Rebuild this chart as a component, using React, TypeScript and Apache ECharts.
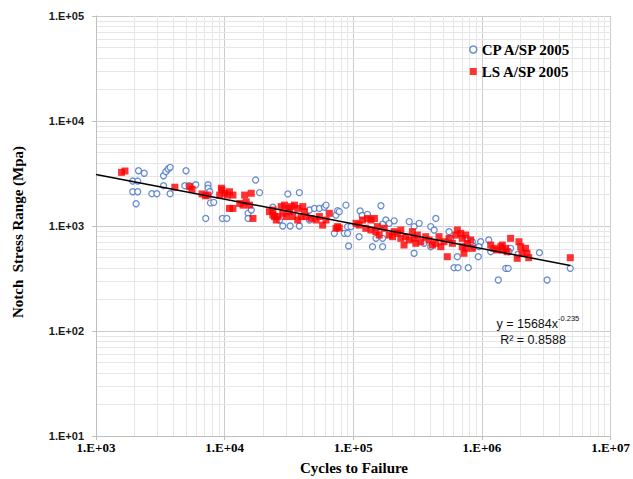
import React, { useEffect, useRef } from "react";
import * as echarts from "echarts";

// CP A/SP 2005 (blue open circles)
const cpCycles = [
  2140, 2370, 1930, 2110, 1930, 2110, 2050, 2720, 2970, 3350,
  3490, 3640, 3770, 3350, 3770, 5010, 4900, 5290, 5960, 7430,
  7430, 7660, 7760, 8230, 7130, 9600, 10400, 17400, 18700, 15200,
  16100, 15200, 31000, 38100, 23700, 26700, 28300, 32300, 38100, 45600,
  49900, 54500, 59600, 61400, 73400, 75500, 87700, 71200, 85100, 90300,
  91900, 90300, 45600, 95900, 77800, 113000, 117000, 129000, 164000, 111000,
  141000, 169000, 179000, 190000, 208000, 169000, 169000, 150000, 272000, 297000,
  325000, 297000, 438000, 400000, 425000, 355000, 400000, 555000, 572000, 644000,
  607000, 652000, 783000, 769000, 842000, 868000, 977000, 948000, 937000, 1130000,
  1170000, 1670000, 1620000, 1530000, 1600000, 1340000, 1910000, 2800000, 3210000, 4860000,
];
const cpStress = [
  3360, 3180, 2680, 2680, 2120, 2120, 1630, 2030, 2030, 3010,
  3290, 3490, 3620, 2420, 2030, 3360, 2420, 2420, 2470, 2470,
  2290, 2120, 1660, 1680, 1180, 1180, 1180, 2740, 2080, 1320,
  1420, 1180, 2020, 2080, 1510, 1140, 1000, 1000, 1000, 1420,
  1470, 1470, 1510, 1580, 1270, 1400, 1580, 851, 851, 851,
  645, 986, 1140, 986, 1370, 1390, 1260, 1290, 1560, 791,
  635, 635, 1140, 1060, 1120, 1040, 763, 763, 1100, 986,
  1060, 550, 1180, 986, 916, 684, 635, 883, 763, 510,
  401, 401, 401, 763, 708, 635, 708, 635, 510, 736,
  569, 613, 569, 395, 395, 306, 538, 557, 306, 395,
];

// LS A/SP 2005 (red squares)
const lsCycles = [
  1580, 1680, 4100, 5350, 5580, 6670, 7090, 7430, 9150, 9530,
  9430, 10000, 10900, 11600, 10500, 10900, 11600, 13100, 13900, 14700,
  15600, 14300, 16100, 16600, 24400, 23700, 27500, 29200, 31000, 32900,
  34900, 37000, 40500, 41700, 28300, 30100, 31900, 33800, 37000, 39300,
  42900, 47000, 51400, 54500, 57800, 61400, 65100, 73400, 75500, 22300,
  23700, 25900, 25200, 77800, 105000, 111000, 118000, 129000, 137000, 146000,
  125000, 137000, 150000, 159000, 154000, 174000, 190000, 202000, 208000, 220000,
  234000, 234000, 248000, 256000, 272000, 288000, 297000, 306000, 315000, 335000,
  366000, 388000, 412000, 438000, 464000, 479000, 507000, 538000, 555000, 589000,
  625000, 644000, 684000, 703000, 725000, 769000, 747000, 817000, 703000, 747000,
  842000, 1170000, 1240000, 1310000, 1400000, 1440000, 1530000, 1570000, 1670000, 1440000,
  1940000, 2000000, 2180000, 2240000, 2050000, 2310000, 1880000, 4860000,
];
const lsStress = [
  3240, 3340, 2340, 2370, 2240, 2020, 1940, 1970, 1970, 2200,
  2290, 2050, 2120, 1970, 1970, 1470, 1470, 1640, 1580, 1700,
  1580, 1970, 2050, 1180, 1230, 1420, 1530, 1580, 1470, 1530,
  1580, 1470, 1530, 1370, 1320, 1230, 1370, 1230, 1140, 1230,
  1230, 1180, 1140, 1230, 1020, 1140, 1320, 951, 986, 1370,
  1270, 1230, 1140, 958, 1060, 1020, 1140, 1180, 1140, 1180,
  951, 916, 883, 820, 986, 951, 820, 791, 883, 851,
  916, 763, 659, 791, 736, 883, 763, 684, 820, 708,
  791, 736, 659, 684, 791, 635, 708, 510, 763, 684,
  820, 916, 851, 763, 550, 684, 820, 736, 635, 613,
  613, 659, 613, 591, 635, 591, 613, 569, 763, 659,
  708, 635, 613, 550, 550, 499, 492, 499,
];

// Power trend line y = a * x^b
const trendCoef = 15684;
const trendExp = -0.235;
const trendRange = [1000, 4860000];
const trendLabel = "y = 15684x";
const trendSup = "-0.235";
const r2Label = "R\u00B2 = 0.8588";

const xDecades = [1e3, 1e4, 1e5, 1e6];
const yDecades = [10, 100, 1000, 10000];
const minorMultipliers = [2, 3, 4, 5, 6, 7, 8, 9];

const seriesNames = ["CP A/SP 2005", "LS A/SP 2005"];
const axisNames = ["Cycles to Failure", "Notch  Stress Range (Mpa)"];

const zip = (a: number[], b: number[]) => a.map((v, i) => [v, b[i]]);

const fmtExp = (v: number) => {
  const e = Math.round(Math.log10(v));
  return "1.E" + (e >= 0 ? "+" : "-") + String(Math.abs(e)).padStart(2, "0");
};

export default function App() {
  const ref = useRef<HTMLDivElement>(null);
  useEffect(() => {
    if (!ref.current) return;
    const chart = echarts.init(ref.current, undefined, { renderer: "svg" });

    const minorX: any[] = [];
    xDecades.forEach((d) => minorMultipliers.forEach((m) => minorX.push({ xAxis: d * m })));
    const minorY: any[] = [];
    yDecades.forEach((d) => minorMultipliers.forEach((m) => minorY.push({ yAxis: d * m })));

    const trendData = trendRange.map((x) => [x, trendCoef * Math.pow(x, trendExp)]);

    const blue = "#4472C4";
    const red = "#FF0000";
    const serif = "'Liberation Serif', 'Times New Roman', serif";
    const sans = "'Liberation Sans', Arial, sans-serif";

    chart.setOption({
      animation: false,
      backgroundColor: "#ffffff",
      grid: { left: 96, top: 16, width: 516, height: 420, containLabel: false },
      xAxis: {
        type: "log",
        logBase: 10,
        min: 1000,
        max: 10000000,
        axisLine: { show: true, lineStyle: { color: "#bfbfbf", width: 1 } },
        axisTick: { show: true, length: 4, lineStyle: { color: "#bfbfbf" } },
        splitLine: { show: true, lineStyle: { color: "#cccccc", width: 1 } },
        axisLabel: {
          formatter: (v: number) => fmtExp(v),
          fontFamily: serif,
          fontWeight: "bold",
          fontSize: 13,
          color: "#000",
          margin: 5,
        },
      },
      yAxis: {
        type: "log",
        logBase: 10,
        min: 10,
        max: 100000,
        axisLine: { show: true, lineStyle: { color: "#bfbfbf", width: 1 } },
        axisTick: { show: true, length: 4, lineStyle: { color: "#bfbfbf" } },
        splitLine: { show: true, lineStyle: { color: "#cccccc", width: 1 } },
        axisLabel: {
          formatter: (v: number) => fmtExp(v),
          fontFamily: sans,
          fontWeight: "bold",
          fontSize: 11,
          color: "#1a1a1a",
          margin: 12,
        },
      },
      legend: {
        orient: "vertical",
        left: 464,
        top: 37,
        itemWidth: 7,
        itemHeight: 7,
        itemGap: 7,
        textStyle: { fontFamily: serif, fontWeight: "bold", fontSize: 15, color: "#000" },
        data: [
          { name: seriesNames[0], icon: "circle", itemStyle: { color: "#fff", borderColor: blue, borderWidth: 1.5 } },
          { name: seriesNames[1], icon: "rect", itemStyle: { color: red } },
        ],
      },
      series: [
        {
          type: "line",
          name: "minor-grid",
          data: [],
          silent: true,
          markLine: {
            silent: true,
            symbol: ["none", "none"],
            z: 0,
            label: { show: false },
            lineStyle: { color: "#e6e6e6", width: 1, type: "solid" },
            emphasis: { disabled: true },
            animation: false,
            data: [...minorX, ...minorY],
          },
        },
        {
          type: "scatter",
          name: seriesNames[0],
          data: zip(cpCycles, cpStress),
          symbol: "circle",
          symbolSize: 6,
          itemStyle: { color: "#ffffff", borderColor: blue, borderWidth: 1.3 },
          z: 3,
        },
        {
          type: "scatter",
          name: seriesNames[1],
          data: zip(lsCycles, lsStress),
          symbol: "rect",
          symbolSize: 7,
          itemStyle: { color: red },
          z: 4,
        },
        {
          type: "line",
          name: "trend",
          data: trendData,
          showSymbol: false,
          symbol: "none",
          lineStyle: { color: "#000", width: 1.5 },
          z: 5,
          silent: true,
        },
      ],
      graphic: [
        {
          type: "text",
          x: 18,
          y: 232,
          z: 20,
          rotation: Math.PI / 2,
          style: {
            text: axisNames[1],
            fontFamily: serif,
            fontWeight: "bold",
            fontSize: 15,
            fill: "#000",
            align: "center",
            verticalAlign: "middle",
          },
        },
        {
          type: "text",
          x: 354,
          y: 468,
          z: 20,
          style: {
            text: axisNames[0],
            fontFamily: serif,
            fontWeight: "bold",
            fontSize: 15,
            fill: "#000",
            align: "center",
            verticalAlign: "middle",
          },
        },
        {
          type: "text",
          x: 558,
          y: 324,
          z: 20,
          style: {
            text: trendLabel,
            fontFamily: sans,
            fontSize: 12.5,
            fill: "#111",
            align: "right",
            verticalAlign: "middle",
          },
        },
        {
          type: "text",
          x: 558,
          y: 318,
          z: 20,
          style: {
            text: trendSup,
            fontFamily: sans,
            fontSize: 7.5,
            fill: "#111",
            align: "left",
            verticalAlign: "middle",
          },
        },
        {
          type: "text",
          x: 533,
          y: 340,
          z: 20,
          style: {
            text: r2Label,
            fontFamily: sans,
            fontSize: 12.5,
            fill: "#111",
            align: "center",
            verticalAlign: "middle",
          },
        },
      ],
    });
    return () => chart.dispose();
  }, []);
  return (
    <div
      ref={ref}
      style={{ position: "absolute", left: 0, top: 0, width: 633, height: 479, background: "#fff" }}
    />
  );
}
